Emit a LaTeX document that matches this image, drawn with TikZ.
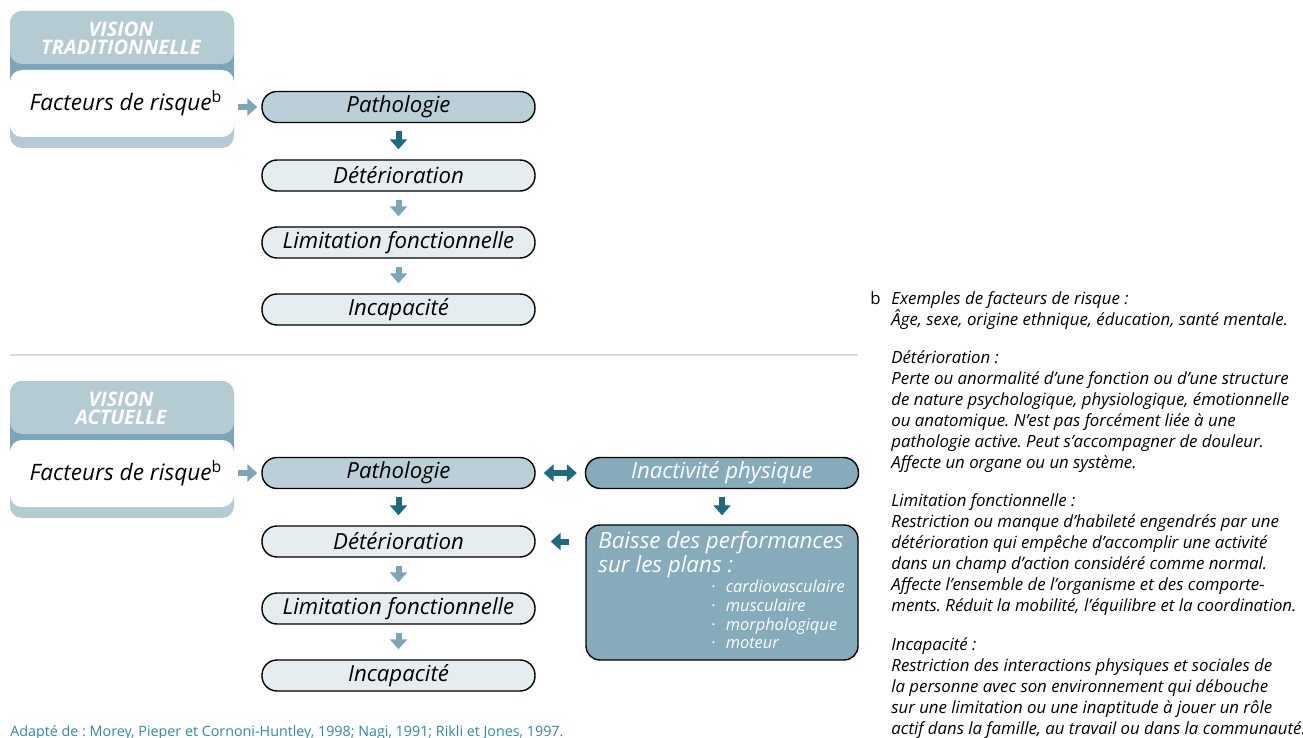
\documentclass[tikz,border=0pt]{standalone}
\usepackage{fontspec}
\setmainfont{Open Sans}
\usepackage{tikz}
\usetikzlibrary{arrows.meta,calc}
\definecolor{headlt}{RGB}{181,203,212}
\definecolor{headdk}{RGB}{124,166,183}
\definecolor{pathfill}{RGB}{186,207,216}
\definecolor{boxfill}{RGB}{229,237,240}
\definecolor{inactfill}{RGB}{134,172,187}
\definecolor{arrdk}{RGB}{30,106,126}
\definecolor{arrlt}{RGB}{123,166,182}
\definecolor{srcteal}{RGB}{46,138,166}
\newcommand{\bul}{{\upshape\textperiodcentered}\hspace{5pt}}
\frenchspacing

\tikzset{
  flowbox/.style={draw=black,line width=0.7pt,fill=boxfill,rounded corners=7.5pt,
    minimum width=136.5pt,minimum height=15.5pt,inner sep=0pt,
    font=\fontsize{11.1}{12}\selectfont\itshape},
  darr/.style={arrdk,line width=3pt,-{Triangle[width=8.5pt,length=5pt]},
    shorten <=4pt,shorten >=5pt},
  larr/.style={darr,arrlt},
  note/.style={anchor=north west,inner sep=0pt,align=left,
    font=\fontsize{8.4}{10.5}\selectfont\itshape},
}

\begin{document}
\begin{tikzpicture}[x=0.5pt,y=-0.5pt]
  \useasboundingbox (0,0) rectangle (1303,738);
  % two panels: traditional view (top), current view (bottom)
  \foreach \s/\o/\h/\hd in {T/0/0/TRADITIONNELLE, A/366/370/ACTUELLE} {
    \fill[headlt,rounded corners=6pt] (10,11+\h) rectangle (234,148+\h);
    \fill[headdk] (10,50+\h) rectangle (234,80+\h);
    \fill[headlt,rounded corners=6pt] (10,11+\h) rectangle (234,64+\h);
    \node[white,align=center,inner sep=0pt,
      font=\fontsize{10}{9}\selectfont\bfseries\itshape] (head\s) at (121,38.5+\h) {VISION\\\hd};
    \node[fill=white,rounded corners=6pt,minimum width=112pt,minimum height=33.5pt,
      font=\fontsize{11.3}{12}\selectfont\itshape] (risk\s) at (122,103.5+\h)
      {\hspace{4pt}Facteurs de risque\textsuperscript{\upshape b}};
    \node[flowbox,fill=pathfill] (path\s) at (398.5,107+\o) {Pathologie};
    \node[flowbox] (det\s) at (398.5,175.5+\o) {Détérioration};
    \node[flowbox] (lim\s) at (398.5,242.5+\o) {Limitation fonctionnelle};
    \node[flowbox] (inc\s) at (398.5,309.5+\o) {Incapacité};
    \draw[larr,shorten <=2pt,shorten >=2pt] (risk\s.east |- path\s) -- (path\s.west);
    \draw[darr] (path\s) -- (det\s);
    \draw[larr] (det\s) -- (lim\s);
    \draw[larr] (lim\s) -- (inc\s);
  }
  \draw[black!15,line width=0.6pt] (10,355) -- (858,355);

  % physical inactivity branch
  \node[flowbox,fill=inactfill,text=white] (inact) at (722,473) {Inactivité physique};
  \node[draw=black,line width=0.7pt,fill=inactfill,rounded corners=7pt,
    minimum width=136pt,minimum height=67.5pt] (baisse) at (722,592.5) {};
  \node[anchor=north west,inner sep=0pt,white,align=left,
    font=\fontsize{11.2}{10}\selectfont\itshape] (baisseT) at (598,531)
    {Baisse des performances\\sur les plans :};
  \node[anchor=north west,inner sep=0pt,white,align=left,
    font=\fontsize{8.2}{9.3}\selectfont\itshape] (baisseL) at (711,580)
    {\bul cardiovasculaire\\\bul musculaire\\\bul morphologique\\\bul moteur};
  \draw[darr,{Triangle[width=8.5pt,length=5pt]}-{Triangle[width=8.5pt,length=5pt]},
    shorten >=4pt] (pathA) -- (inact);
  \draw[darr,shorten >=4.5pt] (inact) -- (baisse);
  \draw[darr,shorten <=8pt,shorten >=7.5pt] (baisse.west |- detA) -- (detA.east);

  % definitions
  \node[note,font=\fontsize{8.4}{10.5}\selectfont\upshape] (bmark) at (870,291) {b};
  \node[note] (noteB) at (891,291)
    {Exemples de facteurs de risque :\\
     Âge, sexe, origine ethnique, éducation, santé mentale.};
  \node[note] (noteDet) at (891,350)
    {Détérioration :\\
     Perte ou anormalité d’une fonction ou d’une structure\\
     de nature psychologique, physiologique, émotionnelle\\
     ou anatomique. N’est pas forcément liée à une\\
     pathologie active. Peut s’accompagner de douleur.\\
     Affecte un organe ou un système.};
  \node[note] (noteLim) at (891,493)
    {Limitation fonctionnelle :\\
     Restriction ou manque d’habileté engendrés par une\\
     détérioration qui empêche d’accomplir une activité\\
     dans un champ d’action considéré comme normal.\\
     Affecte l’ensemble de l’organisme et des comporte-\\
     ments. Réduit la mobilité, l’équilibre et la coordination.};
  \node[note] (noteInc) at (891,637)
    {Incapacité :\\
     Restriction des interactions physiques et sociales de\\
     la personne avec son environnement qui débouche\\
     sur une limitation ou une inaptitude à jouer un rôle\\
     actif dans la famille, au travail ou dans la communauté.};

  \node[anchor=base west,inner sep=0pt,srcteal,font=\fontsize{7.15}{8}\selectfont]
    (src) at (10,736)
    {Adapté de : Morey, Pieper et Cornoni-Huntley, 1998; Nagi, 1991; Rikli et Jones, 1997.};
\end{tikzpicture}
\end{document}
